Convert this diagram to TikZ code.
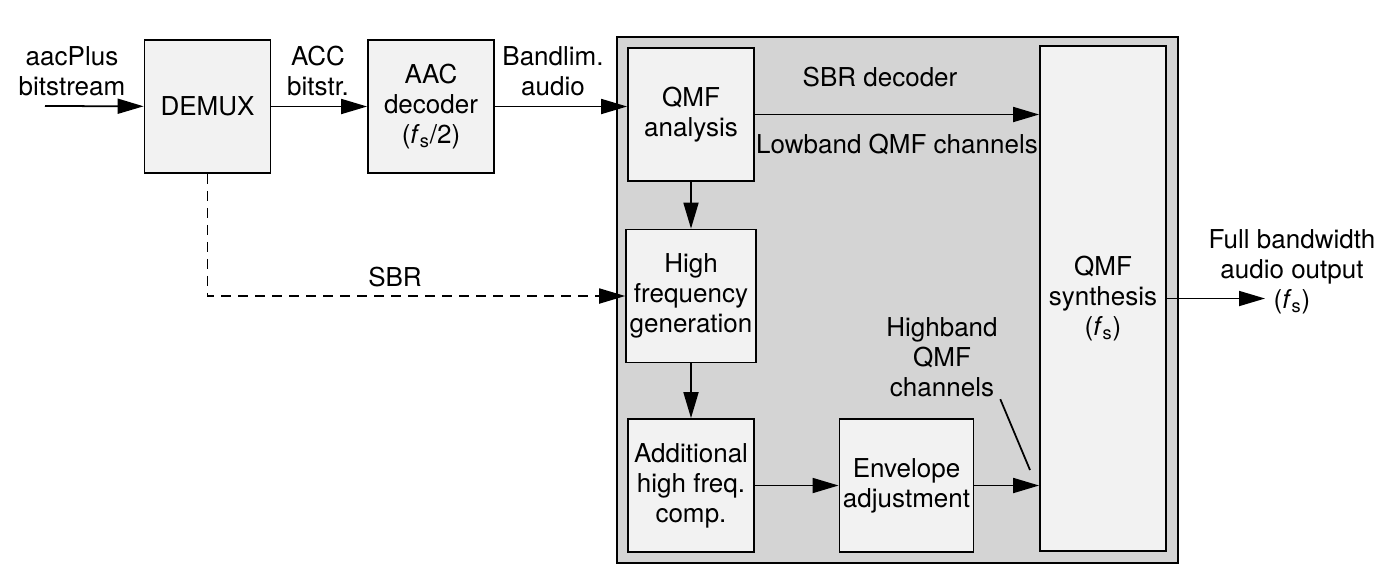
\documentclass[tikz,border=0pt]{standalone}
\usepackage{fontspec}
\setmainfont{TeX Gyre Heros}
\usetikzlibrary{arrows.meta,positioning,backgrounds}

\definecolor{blockfill}{gray}{0.95}
\definecolor{sbrfill}{gray}{0.83}
\newcommand{\fsrate}{\textit{f}\textsubscript{s}}

\begin{document}
\begin{tikzpicture}[>={Triangle[length=0.52cm,width=0.3cm]},line width=1pt,
        font=\fontsize{14.8}{17}\selectfont,
        block/.style={draw=black,fill=blockfill,align=center,inner sep=2pt,
          minimum width=2.52cm,minimum height=2.66cm},
        lbl/.style={align=center,inner sep=1pt}]

        \useasboundingbox (0,0) rectangle (27.8,-11.74);

        \node [block]   (demux) at (4.15,-2.13) {DEMUX};
        \node [block]   (aac)   [right of=demux,node distance=4.47cm] {AAC\\decoder\\(\fsrate/2)};
        \node [block]   (qmfa)  at (13.82,-2.29) {QMF\\analysis};
        \node [block]   (hfg)   [below of=qmfa,node distance=3.63cm] {High\\frequency\\generation};
        \node [block]   (addc)  [below of=hfg,node distance=3.79cm] {Additional\\high freq.\\comp.};
        \node [block,minimum width=2.66cm] (env) [right of=addc,node distance=4.31cm] {Envelope\\adjustment};
        \node [block,minimum height=10.1cm] (qmfs) at (22.06,-5.97) {QMF\\synthesis\\(\fsrate)};

        \node [lbl] (inlbl)   at (1.44,-1.42)  {aacPlus\\bitstream};
        \node [lbl] (acclbl)  at (6.36,-1.42)  {ACC\\bitstr.};
        \node [lbl] (bandlbl) at (11.06,-1.42) {Bandlim.\\audio};
        \node [lbl] (sbrdec)  at (17.6,-1.54)  {SBR decoder};
        \node [lbl] (lowlbl)  at (17.94,-2.88) {Lowband QMF channels};
        \node [lbl] (sbrlbl)  at (7.9,-5.54)   {SBR};
        \node [lbl] (hblbl)   at (18.84,-7.14) {Highband\\QMF\\channels};
        \node [lbl] (outlbl)  at (25.84,-5.44) {Full bandwidth\\audio output\\(\fsrate)};

        \coordinate (in)    at (0.9,-2.12);
        \coordinate (out)   at (25.3,-5.97);
        \coordinate (hbtip) at (20.6,-9.4);

        \path [->]
          (in)        edge (demux)
          (demux)     edge (aac)
          (aac.east)  edge (aac.east -| qmfa.west)
          (qmfa.east) edge (qmfa.east -| qmfs.west)
          (qmfa)      edge (hfg)
          (hfg)       edge (addc)
          (addc)      edge (env)
          (env.east)  edge (env.east -| qmfs.west)
          (qmfs.east) edge (out)
        ;
        \draw [->,dash pattern=on 0.2cm off 0.14cm] (demux.south) |- (hfg.west);
        \draw (hblbl.south east) -- (hbtip);

        \begin{pgfonlayer}{background}
          \draw [line width=1.3pt,fill=sbrfill] (12.34,-0.74) rectangle (23.56,-11.26);
        \end{pgfonlayer}
      \end{tikzpicture}
\end{document}
